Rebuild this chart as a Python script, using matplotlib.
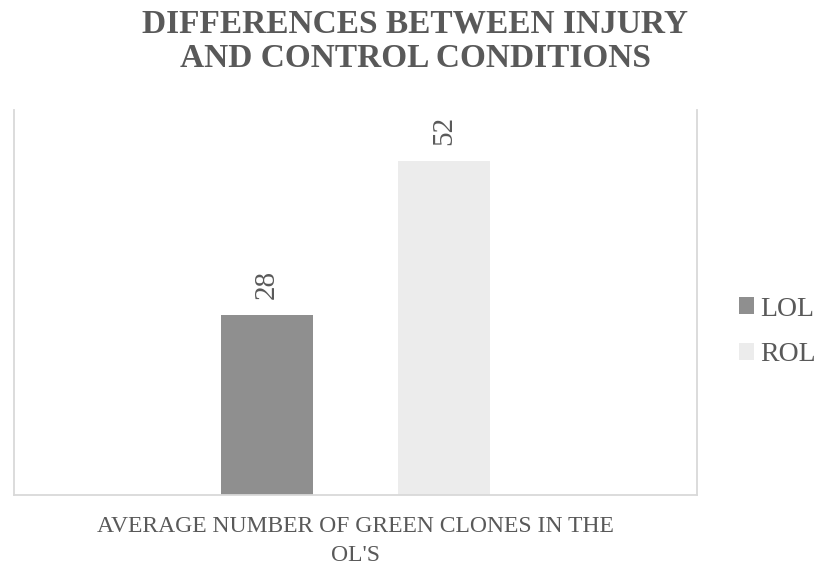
"""Bar chart: differences between injury and control conditions."""

import matplotlib

matplotlib.use("Agg")
import matplotlib.pyplot as plt
import numpy as np
from matplotlib.patches import Patch

title = "DIFFERENCES BETWEEN INJURY\nAND CONTROL CONDITIONS"
category = "AVERAGE NUMBER OF GREEN CLONES IN THE\nOL'S"
series = ["LOL", "ROL"]
values = [28, 52]
colors = ["#8f8f8f", "#ececec"]

text_color = "#595959"
spine_color = "#d9d9d9"
plt.rcParams["font.family"] = ["Liberation Serif", "DejaVu Serif"]

fig = plt.figure(figsize=(8.21, 5.64), dpi=100)
ax = fig.add_axes([14 / 821, 1 - 495 / 564, (697 - 14) / 821, (495 - 110) / 564])

bar_w = 0.272
gap = 0.518
xs = (np.arange(len(series)) - (len(series) - 1) / 2) * gap
bars = ax.bar(xs, values, width=bar_w, color=colors, linewidth=0)

for x, v in zip(xs, values):
  ax.annotate(
    str(v),
    xy=(x, v),
    xytext=(0, 12),
    textcoords="offset points",
    rotation=90,
    ha="center",
    va="bottom",
    fontsize=21,
    color=text_color,
  )

ax.set_xlim(-1, 1)
ax.set_ylim(0, 60)
ax.set_xticks([])
ax.set_yticks([])
for side in ("left", "right", "bottom"):
  ax.spines[side].set_color(spine_color)
  ax.spines[side].set_linewidth(1.3)
ax.spines["top"].set_visible(False)

fig.text(
  0.5 * (14 + 697) / 821,
  1 - 541 / 564,
  category,
  ha="center",
  va="center",
  fontsize=17,
  color=text_color,
  linespacing=1.45,
)

fig.text(
  415 / 821,
  1 - 41 / 564,
  title,
  ha="center",
  va="center",
  fontsize=24,
  fontweight="bold",
  color=text_color,
  linespacing=1.15,
)

handles = [Patch(facecolor=c, edgecolor="none") for c in colors]
fig.legend(
  handles,
  series,
  loc="center left",
  bbox_to_anchor=(739 / 821, 1 - 332 / 564),
  frameon=False,
  fontsize=20,
  labelcolor=text_color,
  handlelength=0.55,
  handleheight=0.55,
  handletextpad=0.2,
  labelspacing=0.75,
  borderpad=0,
  borderaxespad=0,
)

fig.savefig("out.png", dpi=100)
